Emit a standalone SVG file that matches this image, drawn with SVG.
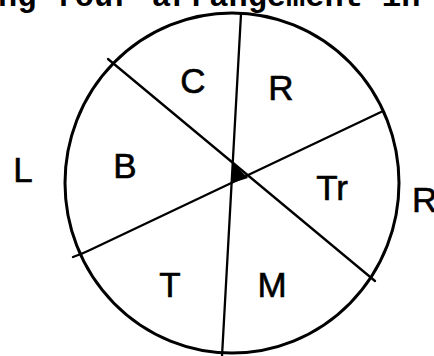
<svg xmlns="http://www.w3.org/2000/svg" width="434" height="356" viewBox="0 0 434 356">
<style>
.lbl{font-family:"Liberation Sans","DejaVu Sans",sans-serif;font-size:35px;fill:#000;text-anchor:middle;stroke:#000;stroke-width:0.6}
.ln{stroke:#000;stroke-width:2.3;fill:none;stroke-linecap:round}
.head{font-family:"Liberation Mono","Courier New",monospace;font-weight:bold;font-size:32px;fill:#000}
</style>
<rect width="434" height="356" fill="#fff"/>
<text class="head" x="-2" y="5.5">ng four arrangement in</text>
<g id="connectors">
<ellipse cx="232" cy="183" rx="167" ry="170" fill="none" stroke="#000" stroke-width="3"/>
<path class="ln" d="M241,14 L222,356"/>
<path class="ln" d="M108,59 L375,281"/>
<path class="ln" d="M381,112 L90,250 Q84,253 73,257"/>
<polygon points="233,163 248,178 232,183" fill="#000"/>
</g>
<g id="C"><text class="lbl" x="193" y="93">C</text></g>
<g id="R1"><text class="lbl" x="281" y="100">R</text></g>
<g id="B"><text class="lbl" x="125" y="178">B</text></g>
<g id="L"><text class="lbl" x="23" y="182">L</text></g>
<g id="Tr"><text class="lbl" x="332" y="200">Tr</text></g>
<g id="R2"><text class="lbl" x="412" y="212" style="text-anchor:start">R</text></g>
<g id="T"><text class="lbl" x="170" y="297">T</text></g>
<g id="M"><text class="lbl" x="272" y="297">M</text></g>
</svg>
